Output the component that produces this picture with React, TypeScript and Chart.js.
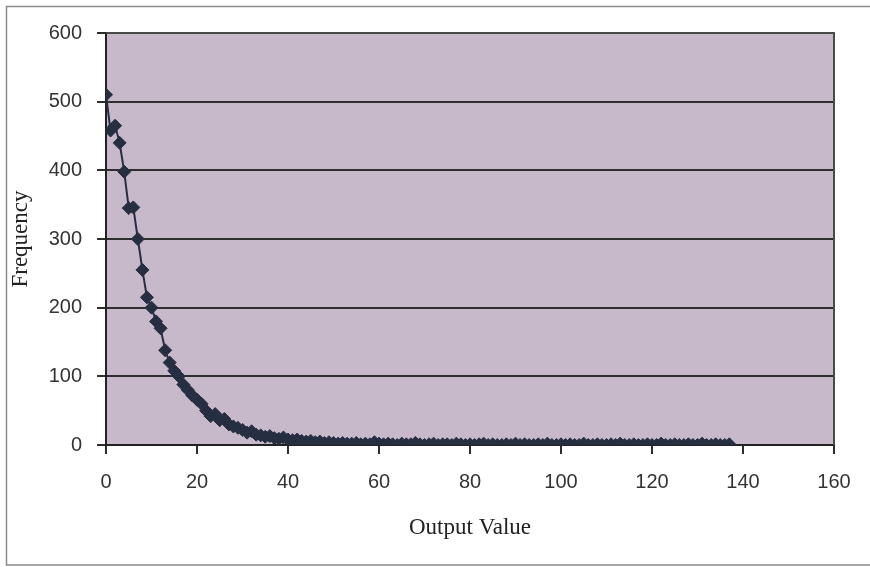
import React, { useEffect, useRef } from "react";
import { Chart, registerables } from "chart.js";

Chart.register(...registerables);

// Frequency for each output value 0, 1, 2, ...
const frequencies: number[] = [
  510, 458, 465, 440, 398, 345, 346, 300, 255, 215,
  200, 180, 170, 138, 120, 108, 100, 88, 80, 72,
  66, 60, 50, 42, 45, 36, 38, 30, 27, 25,
  22, 18, 20, 15, 14, 12, 13, 10, 9, 11,
  8, 7, 8, 6, 5, 6, 4, 5, 3, 4,
  3, 2, 3, 2, 2, 3, 1, 2, 1, 4,
  2, 1, 2, 1, 0, 2, 1, 1, 3, 1,
  0, 1, 2, 0, 1, 1, 0, 2, 1, 0,
  1, 0, 1, 2, 0, 1, 0, 0, 1, 0,
  2, 0, 1, 0, 0, 1, 0, 2, 0, 0,
  1, 0, 1, 0, 0, 2, 0, 0, 1, 0,
  0, 1, 0, 2, 0, 0, 1, 0, 0, 1,
  0, 0, 2, 0, 0, 1, 0, 0, 1, 0,
  0, 2, 0, 0, 1, 0, 0, 1,
];
const firstOutputValue = 0;

const xTicks = { min: 0, max: 160, step: 20 };
const yTicks = { min: 0, max: 600, step: 100 };

const xTitle = "Output Value";
const yTitle = "Frequency";

const SERIES_COLOR = "#262f42";
const PLOT_BG = "#c7b9ca";

export default function App() {
  const canvasRef = useRef<HTMLCanvasElement | null>(null);

  useEffect(() => {
    document.body.style.margin = "0";
    const canvas = canvasRef.current;
    if (!canvas) return;

    const points = frequencies.map((f, i) => ({ x: firstOutputValue + i, y: f }));

    const framePlugin = {
      id: "frame",
      beforeDraw(chart: any) {
        const { ctx, chartArea } = chart;
        ctx.save();
        ctx.fillStyle = "#ffffff";
        ctx.fillRect(0, 0, chart.width, chart.height);
        ctx.strokeStyle = "#8a8a8a";
        ctx.lineWidth = 1.5;
        ctx.strokeRect(6.5, 6.5, chart.width + 10, chart.height - 8.5);
        ctx.fillStyle = PLOT_BG;
        ctx.fillRect(chartArea.left, chartArea.top, chartArea.right - chartArea.left, chartArea.bottom - chartArea.top);
        ctx.restore();
      },
      beforeDatasetsDraw(chart: any) {
        const { ctx, chartArea } = chart;
        ctx.save();
        ctx.strokeStyle = "#4a4a4a";
        ctx.lineWidth = 2;
        ctx.beginPath();
        ctx.moveTo(chartArea.left, chartArea.top);
        ctx.lineTo(chartArea.right, chartArea.top);
        ctx.lineTo(chartArea.right, chartArea.bottom);
        ctx.stroke();
        ctx.restore();
      },
    };

    const chart = new Chart(canvas, {
      type: "line",
      data: {
        datasets: [
          {
            data: points,
            borderColor: SERIES_COLOR,
            backgroundColor: SERIES_COLOR,
            borderWidth: 2,
            pointStyle: "rectRot",
            pointRadius: 6.5,
            pointBackgroundColor: SERIES_COLOR,
            pointBorderColor: SERIES_COLOR,
            pointBorderWidth: 1,
            tension: 0,
            fill: false,
          },
        ],
      },
      options: {
        responsive: false,
        animation: false,
        layout: { padding: { left: 0, top: 33, right: 36, bottom: 0 } },
        plugins: {
          legend: { display: false },
          tooltip: { enabled: false },
          title: { display: false },
        },
        scales: {
          x: {
            type: "linear",
            min: xTicks.min,
            max: xTicks.max,
            afterFit: (scale: any) => {
              scale.height = 122;
            },
            ticks: {
              stepSize: xTicks.step,
              padding: 16,
              color: "#333333",
              font: { family: "Liberation Sans", size: 20 },
              maxRotation: 0,
            },
            grid: {
              drawOnChartArea: false,
              drawTicks: true,
              tickLength: 9,
              color: "#2e2e2e",
              lineWidth: 2,
            },
            border: { display: true, color: "#222222", width: 2 },
            title: {
              display: true,
              text: xTitle,
              color: "#222222",
              font: { family: "Liberation Serif", size: 23, weight: "normal" },
              padding: { top: 0, bottom: 25 },
            },
          },
          y: {
            type: "linear",
            min: yTicks.min,
            max: yTicks.max,
            afterFit: (scale: any) => {
              scale.width = 106;
            },
            ticks: {
              stepSize: yTicks.step,
              padding: 15,
              color: "#333333",
              font: { family: "Liberation Sans", size: 20 },
            },
            grid: {
              drawTicks: true,
              tickLength: 9,
              color: "#2e2e2e",
              lineWidth: 2,
            },
            border: { display: true, color: "#222222", width: 2 },
            title: {
              display: true,
              text: yTitle,
              color: "#222222",
              font: { family: "Liberation Serif", size: 23, weight: "normal" },
              padding: { top: 7, bottom: 0 },
            },
          },
        },
      },
      plugins: [framePlugin],
    });

    return () => {
      chart.destroy();
    };
  }, []);

  return (
    <canvas
      ref={canvasRef}
      width={870}
      height={567}
      style={{ display: "block", width: 870, height: 567 }}
    />
  );
}
